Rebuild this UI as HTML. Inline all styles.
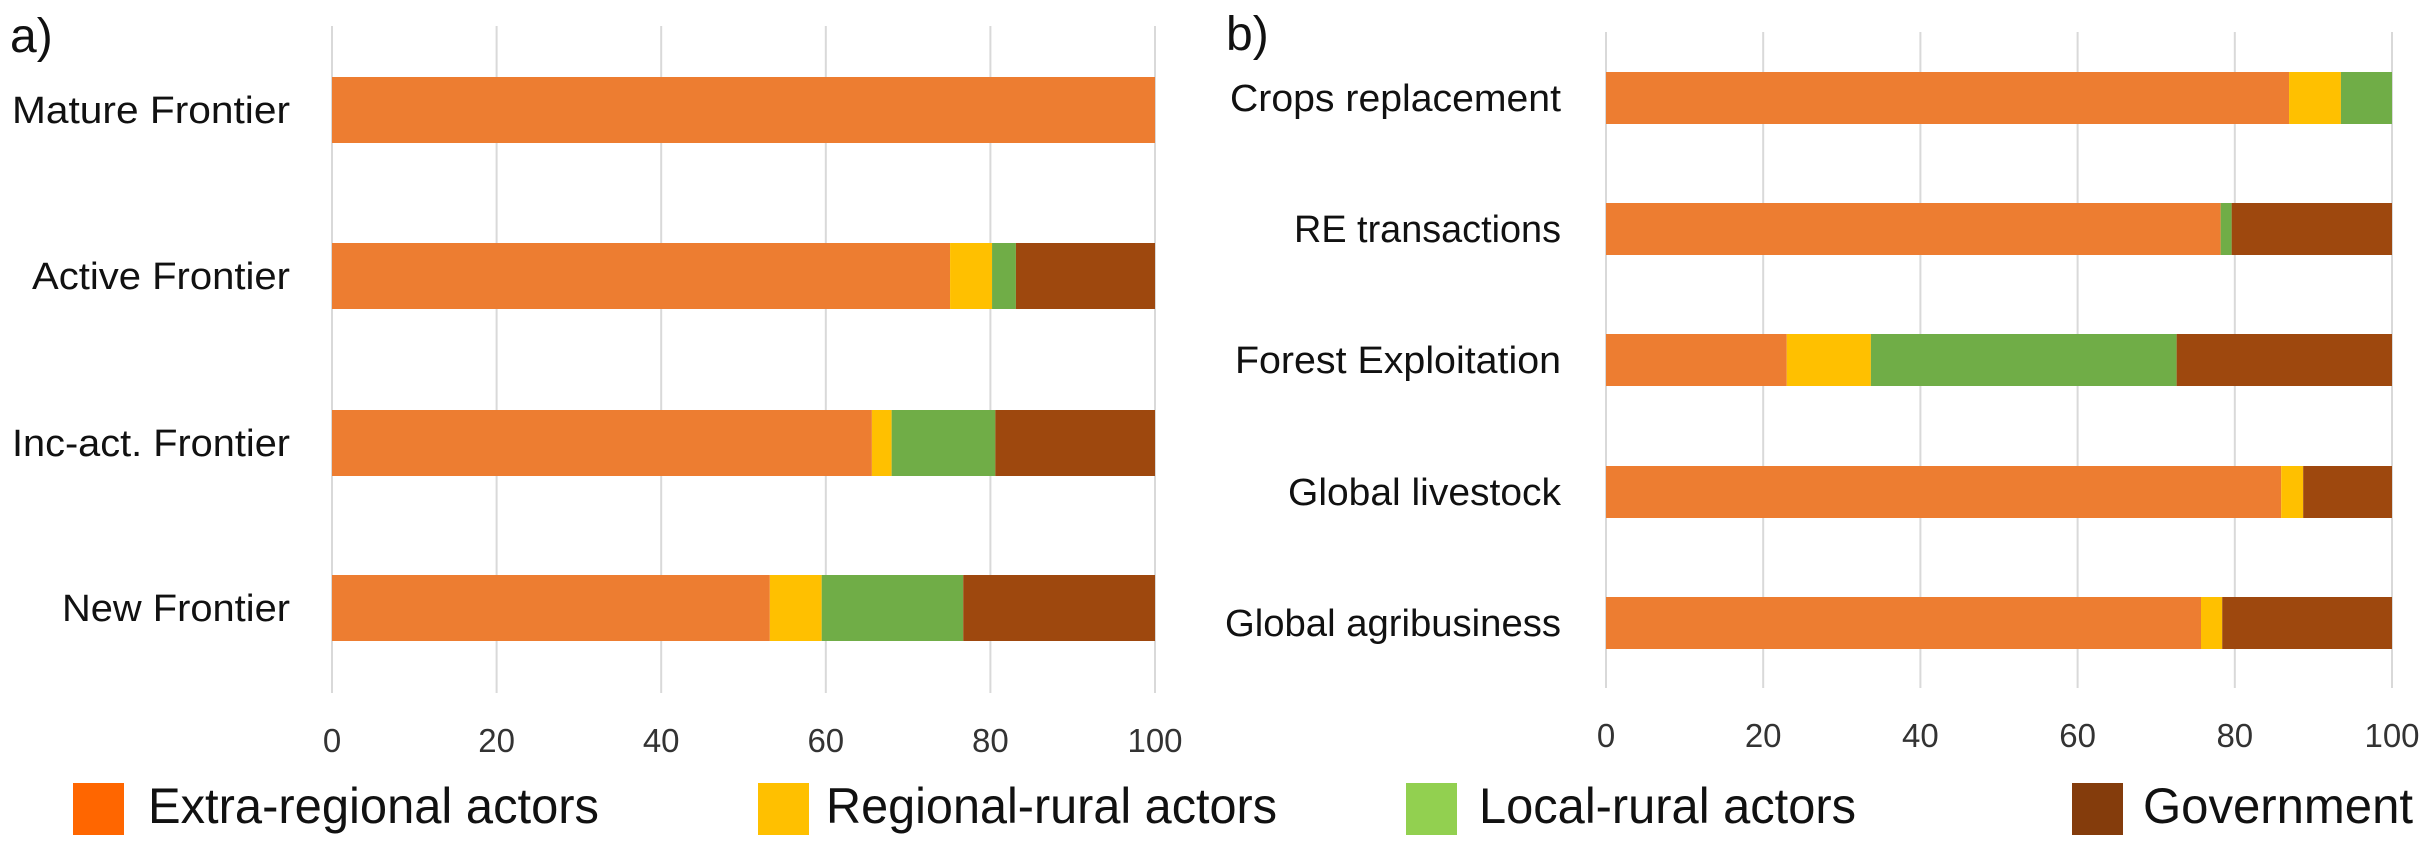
<!DOCTYPE html>
<html><head><meta charset="utf-8"><style>
html,body{margin:0;padding:0;background:#fff;}
svg{display:block;font-family:"Liberation Sans Narrow","Liberation Sans",sans-serif;}
</style></head><body>
<svg id="chart" width="2427" height="842" viewBox="0 0 2427 842" xmlns="http://www.w3.org/2000/svg">
<text x="10" y="52" font-size="48" fill="#111">a)</text>
<text x="1226" y="50" font-size="48" fill="#111">b)</text>
<g id="legend"></g>
</svg>
<script>
const catsA = ["Mature Frontier","Active Frontier","Inc-act. Frontier","New Frontier"];
const extraA = [100, 75.1, 65.6, 53.2];
const regionalA = [0, 5.1, 2.4, 6.3];
const localA = [0, 2.9, 12.6, 17.2];
const govA = [0, 16.9, 19.4, 23.3];

const catsB = ["Crops replacement","RE transactions","Forest Exploitation","Global livestock","Global agribusiness"];
const extraB = [86.9, 78.2, 23.0, 85.9, 75.7];
const regionalB = [6.6, 0, 10.7, 2.8, 2.7];
const localB = [6.5, 1.4, 38.9, 0, 0];
const govB = [0, 20.4, 27.4, 11.3, 21.6];

const ticks = [0, 20, 40, 60, 80, 100];
const seriesNames = ["Extra-regional actors","Regional-rural actors","Local-rural actors","Government"];

const NS = "http://www.w3.org/2000/svg";
const svg = document.getElementById("chart");
const barColors = ["#ED7D31","#FFC000","#70AD47","#9E480E"];
const legendColors = ["#FF6600","#FFC000","#92D050","#843C0C"];
const seriesKeys = ["extra","regional","local","gov"];

function mk(tag, attrs){ const e=document.createElementNS(NS,tag); for(const k in attrs) e.setAttribute(k,attrs[k]); return e; }

function drawPanel(p){
  const g = mk("g",{});
  
  
  svg.appendChild(g);
  const xs = v => p.x0 + (v/100)*(p.x1-p.x0);
  ticks.forEach(t=>{
    const l = mk("line",{x1:xs(t),x2:xs(t),y1:p.gTop,y2:p.gBot,stroke:"#d9d9d9","stroke-width":2});
    
    
    g.appendChild(l);
    const tx = mk("text",{x:xs(t),y:p.tickY,"text-anchor":"middle","font-size":33,fill:"#333"});
    tx.textContent = t;
    
    
    g.appendChild(tx);
  });
  p.cats.forEach((c,i)=>{
    const top = p.barTops[i];
    const lab = mk("text",{x:p.labelRight,y:top+p.barH/2+13,"text-anchor":"end","font-size":38,fill:"#111",textLength:p.labelLens[i],lengthAdjust:"spacingAndGlyphs"});
    lab.textContent = c;
    
    
    g.appendChild(lab);
    let acc = 0;
    p.series.forEach((arr,s)=>{
      const v = arr[i];
      if(v<=0) return;
      const r = mk("rect",{x:xs(acc),y:top,width:xs(acc+v)-xs(acc),height:p.barH,fill:barColors[s]});
      
      
      g.appendChild(r);
      acc += v;
    });
  });
}

drawPanel({name:"panel-a", x0:332, x1:1155, gTop:26, gBot:693, tickY:752,
  cats:catsA, series:[extraA,regionalA,localA,govA],
  barTops:[77,243,410,575], barH:66, labelRight:290, labelLens:[278,258,278,228]});
drawPanel({name:"panel-b", x0:1606, x1:2392, gTop:32, gBot:688, tickY:747,
  cats:catsB, series:[extraB,regionalB,localB,govB],
  barTops:[72,203,334,466,597], barH:52, labelRight:1561, labelLens:[331,267,326,273,336]});

const leg = document.getElementById("legend");
const legSw = [73,758,1406,2072];
const legTx = [148,826,1479,2143];
const legLen = [451,451,377,270];
seriesNames.forEach((n,i)=>{
  const r = mk("rect",{x:legSw[i],y:783,width:51,height:52,fill:legendColors[i]});
  
  
  leg.appendChild(r);
  const t = mk("text",{x:legTx[i],y:823,"font-size":50,fill:"#111",textLength:legLen[i],lengthAdjust:"spacingAndGlyphs"});
  t.textContent = n;
  
  
  leg.appendChild(t);
});
</script>
</body></html>
